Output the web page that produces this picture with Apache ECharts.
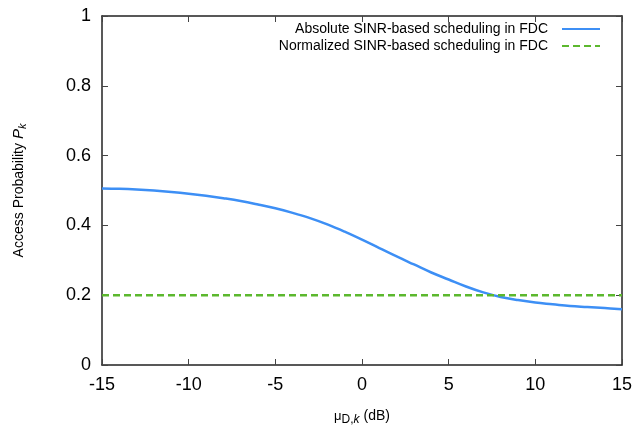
<!DOCTYPE html>
<html>
<head>
<meta charset="utf-8">
<script src="https://cdn.jsdelivr.net/npm/echarts@6/dist/echarts.min.js"></script>
<style>
  html, body { margin: 0; padding: 0; background: #fff; }
  #chart { width: 634px; height: 426px; }
</style>
</head>
<body>
<div id="chart"></div>
<script>
// mean D2D channel gain offset (dB)
const muDk = [-15, -14, -13, -12, -11, -10, -9, -8, -7, -6, -5, -4, -3, -2, -1, 0,
              1, 2, 3, 4, 5, 6, 7, 8, 9, 10, 11, 12, 13, 14, 15];
// access probability, absolute SINR-based scheduling
const absoluteSinr = [0.506, 0.505, 0.503, 0.500, 0.496, 0.491, 0.485, 0.478, 0.470, 0.460,
                      0.449, 0.436, 0.421, 0.403, 0.382, 0.359, 0.335, 0.311, 0.288, 0.265,
                      0.245, 0.225, 0.208, 0.195, 0.186, 0.179, 0.174, 0.169, 0.166, 0.163, 0.160];
// access probability, normalized SINR-based scheduling
const normalizedSinr = [0.2, 0.2, 0.2, 0.2, 0.2, 0.2, 0.2, 0.2, 0.2, 0.2, 0.2, 0.2, 0.2, 0.2, 0.2, 0.2,
                        0.2, 0.2, 0.2, 0.2, 0.2, 0.2, 0.2, 0.2, 0.2, 0.2, 0.2, 0.2, 0.2, 0.2, 0.2];

const xTicks = [-15, -10, -5, 0, 5, 10, 15];
const yTicks = [0, 0.2, 0.4, 0.6, 0.8, 1];

const seriesNames = ['Absolute SINR-based scheduling in FDC', 'Normalized SINR-based scheduling in FDC'];

const FONT = '"Liberation Sans", Arial, Helvetica, sans-serif';
const frame = { lineStyle: { color: '#222', width: 1.5 } };

const chart = echarts.init(document.getElementById('chart'), null, { renderer: 'canvas' });

function xAx(pos, show) {
  return {
    type: 'value', position: pos,
    min: xTicks[0], max: xTicks[xTicks.length - 1], interval: xTicks[1] - xTicks[0],
    axisLine: { show: true, onZero: false, ...frame },
    axisTick: { show: true, inside: true, length: 6, lineStyle: { color: '#444', width: 1 } },
    axisLabel: show ? { show: true, fontFamily: FONT, fontSize: 18, color: '#000', margin: 11 } : { show: false },
    splitLine: { show: false }
  };
}
function yAx(pos, show) {
  return {
    type: 'value', position: pos,
    min: yTicks[0], max: yTicks[yTicks.length - 1], interval: yTicks[1] - yTicks[0],
    axisLine: { show: true, onZero: false, ...frame },
    axisTick: { show: true, inside: true, length: 6, lineStyle: { color: '#444', width: 1 } },
    axisLabel: show ? { show: true, fontFamily: FONT, fontSize: 18, color: '#000', margin: 11,
      formatter: v => (v === 0 || v === 1) ? String(v) : v.toFixed(1) } : { show: false },
    splitLine: { show: false }
  };
}

const xMain = xAx('bottom', true);
xMain.name = '{mu|\u03bc}{sub|D,}{subi|k}{norm| (dB)}';
xMain.nameLocation = 'middle';
xMain.nameGap = 42;
xMain.nameTextStyle = {
  fontFamily: FONT, color: '#000',
  rich: {
    mu: { fontFamily: FONT, fontSize: 13, color: '#000' },
    sub: { fontFamily: FONT, fontSize: 12, color: '#000', padding: [7, 0, 0, 0] },
    subi: { fontFamily: FONT, fontSize: 12, fontStyle: 'italic', color: '#000', padding: [7, 0, 0, 0] },
    norm: { fontFamily: FONT, fontSize: 14, color: '#000' }
  }
};

const yMain = yAx('left', true);
yMain.name = '{norm|Access Probability }{pi|P}{subi|k}';
yMain.nameLocation = 'middle';
yMain.nameGap = 74;
yMain.nameRotate = 90;
yMain.nameTextStyle = {
  fontFamily: FONT, color: '#000',
  rich: {
    norm: { fontFamily: FONT, fontSize: 14, color: '#000' },
    pi: { fontFamily: FONT, fontSize: 15, fontStyle: 'italic', color: '#000' },
    subi: { fontFamily: FONT, fontSize: 11, fontStyle: 'italic', color: '#000', padding: [7, 0, 0, 0] }
  }
};

const legendCommon = {
  right: 28, align: 'right', itemWidth: 38, itemHeight: 10, selectedMode: false,
  itemStyle: { opacity: 0 },
  textStyle: { fontFamily: FONT, fontSize: 14, color: '#000', padding: [0, 9, 0, 0] }
};

chart.setOption({
  animation: false,
  backgroundColor: '#fff',
  grid: { left: 102, right: 12, top: 16, bottom: 61, containLabel: false, outerBoundsMode: 'none' },
  legend: [
    { ...legendCommon, data: [seriesNames[0]], top: 17 },
    { ...legendCommon, data: [seriesNames[1]], top: 34 }
  ],
  xAxis: [xMain, xAx('top', false)],
  yAxis: [yMain, yAx('right', false)],
  series: [
    {
      name: seriesNames[0], type: 'line', xAxisIndex: 0, yAxisIndex: 0,
      data: muDk.map((x, i) => [x, absoluteSinr[i]]),
      smooth: 0.4, showSymbol: false, symbol: 'none',
      lineStyle: { color: '#3d8ff5', width: 2.5 },
      itemStyle: { color: '#3d8ff5' }
    },
    {
      name: seriesNames[1], type: 'line', xAxisIndex: 0, yAxisIndex: 0,
      data: muDk.map((x, i) => [x, normalizedSinr[i]]),
      showSymbol: false, symbol: 'none',
      lineStyle: { color: '#5cb82e', width: 2.5, type: [7, 4] },
      itemStyle: { color: '#5cb82e' }
    }
  ]
});
</script>
</body>
</html>
